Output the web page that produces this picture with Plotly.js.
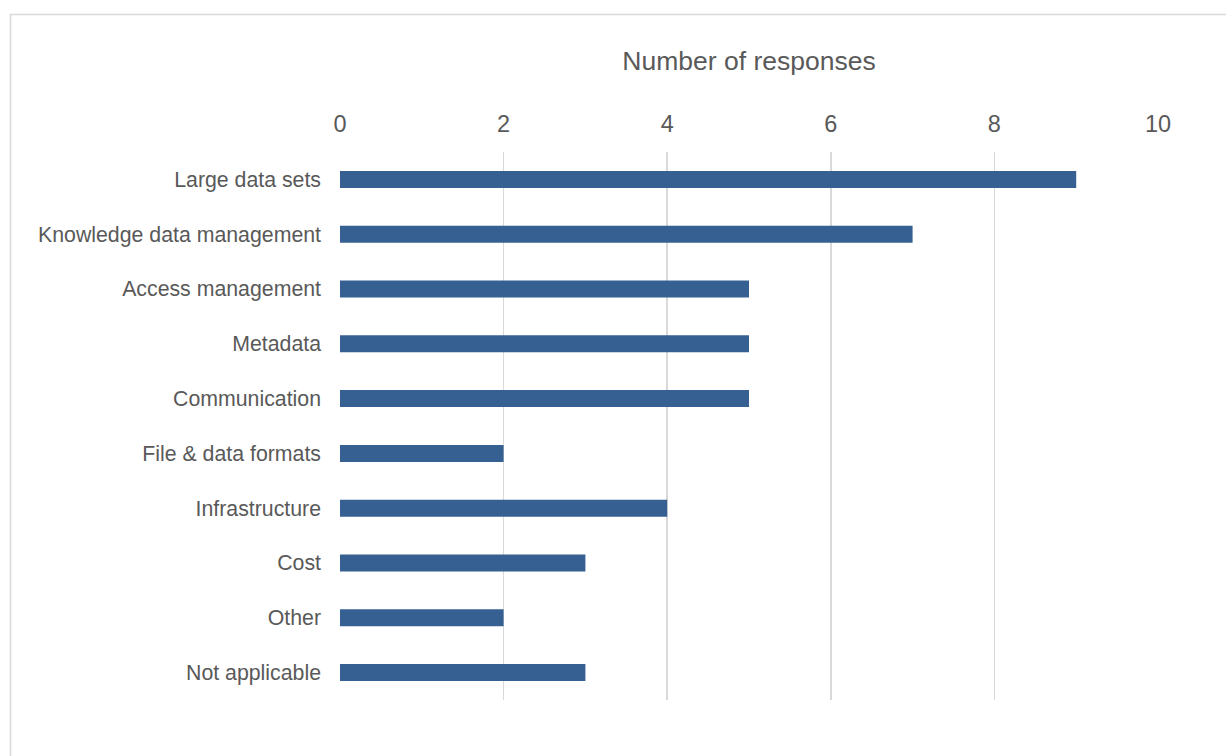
<!DOCTYPE html>
<html>
<head>
<meta charset="utf-8">
<script src="https://cdn.plot.ly/plotly-3.0.1.min.js"></script>
<style>
html,body{margin:0;padding:0;background:#fff;overflow:hidden;}
#chart{width:1226px;height:756px;}
</style>
</head>
<body>
<div id="chart"></div>
<script>
const categories = ["Large data sets","Knowledge data management","Access management","Metadata","Communication","File & data formats","Infrastructure","Cost","Other","Not applicable"];
const responses = [9,7,5,5,5,2,4,3,2,3];
const tickValues = [0,2,4,6,8,10];
const tickLabels = ["0","2","4","6","8","10"];

const trace = {
  type: 'bar',
  orientation: 'h',
  y: categories,
  x: responses,
  width: 0.31,
  marker: {color: '#376092', line: {width: 0}},
  hoverinfo: 'x+y'
};

const layout = {
  width: 1226,
  height: 756,
  margin: {l: 340, r: 68, t: 152, b: 56},
  paper_bgcolor: '#ffffff',
  plot_bgcolor: '#ffffff',
  font: {family: 'Liberation Sans, Arial, sans-serif', color: '#595959'},
  showlegend: false,
  xaxis: {
    side: 'top',
    range: [0, 10],
    tickvals: tickValues,
    ticktext: tickLabels,
    showgrid: true,
    gridcolor: '#d9d9d9',
    gridwidth: 1.5,
    zeroline: false,
    showline: false,
    ticks: '',
    ticklabelstandoff: 14,
    tickfont: {size: 23.5, color: '#595959'},
    title: {text: 'Number of responses', font: {size: 26.5, color: '#595959'}, standoff: 33},
    automargin: false,
    fixedrange: true
  },
  yaxis: {
    autorange: 'reversed',
    showgrid: false,
    zeroline: false,
    showline: false,
    ticks: '',
    ticklabelstandoff: 18,
    tickfont: {size: 21.3, color: '#595959'},
    automargin: false,
    fixedrange: true
  },
  shapes: [{
    type: 'rect', xref: 'paper', yref: 'paper',
    x0: (10.5 - 340) / 818, x1: 1.5,
    y0: -0.5, y1: 1 + (152 - 14.5) / 548,
    line: {color: '#d9d9d9', width: 1.5},
    fillcolor: 'rgba(0,0,0,0)',
    layer: 'below'
  }]
};

Plotly.newPlot('chart', [trace], layout, {displayModeBar: false, staticPlot: true});
</script>
</body>
</html>
